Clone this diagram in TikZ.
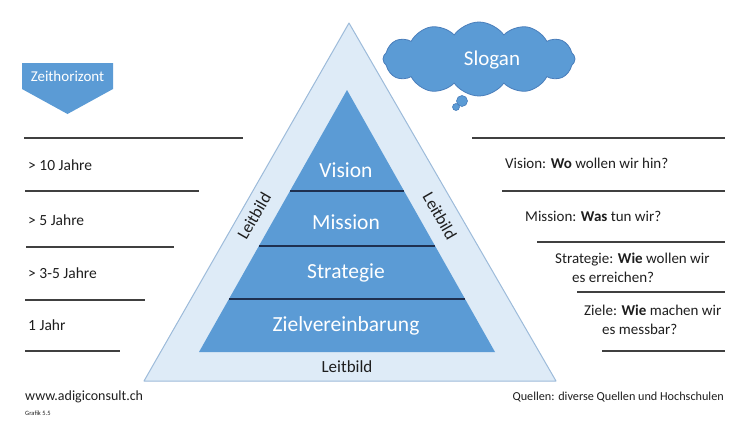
\documentclass[tikz,border=0pt]{standalone}
\usepackage{fontspec}
\setmainfont{Carlito}
\usetikzlibrary{shapes.symbols,calc}
\definecolor{midblue}{HTML}{5B9BD5}
\definecolor{cloudedge}{HTML}{4A7EBB}
\definecolor{lightblue}{HTML}{DEEBF7}
\definecolor{outeredge}{HTML}{9DBBDA}
\definecolor{navy}{HTML}{1F3050}
\definecolor{txt}{HTML}{1E1E1E}
\definecolor{rule}{HTML}{404040}
\tikzset{
  ruleline/.style={draw=rule, line width=1.1pt},
  lefttxt/.style={anchor=west, inner sep=0pt, text=txt, font=\fontsize{15.5}{17}\selectfont},
  righttxt/.style={anchor=west, inner sep=0pt, text=txt, align=left, font=\fontsize{15}{19.5}\selectfont},
  pyrtxt/.style={text=white, inner sep=0pt, font=\fontsize{21.5}{23}\selectfont},
  leit/.style={text=txt, inner sep=0pt, font=\fontsize{17}{18}\selectfont},
  divider/.style={draw=navy, line width=1.2pt}
}
\begin{document}
\begin{tikzpicture}[x=1pt,y=-1pt]
\useasboundingbox (0,0) rectangle (745,424);
% outer triangle
\coordinate (oa) at (349,23);
\coordinate (obl) at (144,381);
\coordinate (obr) at (556,381);
\draw[fill=lightblue, draw=outeredge, line width=1pt, line join=round] (oa) -- (obl) -- (obr) -- cycle;
% inner triangle
\coordinate (ia) at (347,90);
\coordinate (ibl) at (199,352);
\coordinate (ibr) at (495,352);
\fill[midblue] (ia) -- (ibl) -- (ibr) -- cycle;
% dividers
\coordinate (d1l) at ($(ia)!0.3855!(ibl)$);
\coordinate (d1r) at ($(ia)!0.3855!(ibr)$);
\coordinate (d2l) at ($(ia)!0.5954!(ibl)$);
\coordinate (d2r) at ($(ia)!0.5954!(ibr)$);
\coordinate (d3l) at ($(ia)!0.7977!(ibl)$);
\coordinate (d3r) at ($(ia)!0.7977!(ibr)$);
\draw[divider] (d1l) -- (d1r);
\draw[divider] (d2l) -- (d2r);
\draw[divider] (d3l) -- (d3r);
% pyramid texts
\node[pyrtxt] (vision) at (346,170) {Vision};
\node[pyrtxt] (mission) at (346,222) {Mission};
\node[pyrtxt] (strategie) at (346,273) {Strategie};
\node[pyrtxt] (ziel) at (346,326) {Zielvereinbarung};
% Leitbild labels
\node[leit, rotate=60] (leitL) at (254,216) {Leitbild};
\node[leit, rotate=-60] (leitR) at (440,216) {Leitbild};
\node[leit] (leitB) at (347,367) {Leitbild};
% cloud
\node[cloud, cloud puffs=12, cloud puff arc=110, aspect=2.8, fill=midblue, draw=cloudedge, line width=0.8pt,
      minimum width=192pt, minimum height=74pt, inner sep=0pt] (cloud) at (479,59) {};
\node[text=white, inner sep=0pt, font=\fontsize{21}{22}\selectfont] (slogan) at (492,60) {Slogan};
\node[circle, fill=midblue, draw=cloudedge, line width=0.6pt, minimum size=11pt, inner sep=0pt] (b1) at (462,101) {};
\node[circle, fill=midblue, draw=cloudedge, line width=0.6pt, minimum size=7pt, inner sep=0pt] (b2) at (456,107) {};
% Zeithorizont
\coordinate (z1) at (22,63);
\coordinate (z2) at (113,63);
\coordinate (z3) at (113,89);
\coordinate (z4) at (67.5,114);
\coordinate (z5) at (22,89);
\fill[midblue] (z1) -- (z2) -- (z3) -- (z4) -- (z5) -- cycle;
\node[text=white, inner sep=0pt, font=\fontsize{15}{16}\selectfont] (zeit) at (67.5,76) {Zeithorizont};
% left rules
\coordinate (l1a) at (24,138); \coordinate (l1b) at (243,138);
\coordinate (l2a) at (25,191); \coordinate (l2b) at (199,191);
\coordinate (l3a) at (26,247); \coordinate (l3b) at (174,247);
\coordinate (l4a) at (25,300); \coordinate (l4b) at (145,300);
\coordinate (l5a) at (25,351); \coordinate (l5b) at (120,351);
\draw[ruleline] (l1a) -- (l1b);
\draw[ruleline] (l2a) -- (l2b);
\draw[ruleline] (l3a) -- (l3b);
\draw[ruleline] (l4a) -- (l4b);
\draw[ruleline] (l5a) -- (l5b);
\node[lefttxt] (t10) at (28,165) {> 10 Jahre};
\node[lefttxt] (t5) at (28,220) {> 5 Jahre};
\node[lefttxt] (t35) at (28,273) {> 3-5 Jahre};
\node[lefttxt] (t1) at (28,325) {1 Jahr};
% right rules
\coordinate (r1a) at (472,138); \coordinate (r1b) at (725,138);
\coordinate (r2a) at (502,191); \coordinate (r2b) at (725,191);
\coordinate (r3a) at (537,242); \coordinate (r3b) at (725,242);
\coordinate (r4a) at (577,292); \coordinate (r4b) at (725,292);
\coordinate (r5a) at (602,351); \coordinate (r5b) at (725,351);
\draw[ruleline] (r1a) -- (r1b);
\draw[ruleline] (r2a) -- (r2b);
\draw[ruleline] (r3a) -- (r3b);
\draw[ruleline] (r4a) -- (r4b);
\draw[ruleline] (r5a) -- (r5b);
\node[righttxt] (qv) at (505,163) {Vision: \textbf{Wo} wollen wir hin?};
\node[righttxt] (qm) at (525,216) {Mission: \textbf{Was} tun wir?};
\node[righttxt] (qs) at (555,268) {Strategie: \textbf{Wie} wollen wir\\\hspace*{17pt}es erreichen?};
\node[righttxt] (qz) at (584,320) {Ziele: \textbf{Wie} machen wir\\\hspace*{18pt}es messbar?};
% footer
\node[anchor=west, inner sep=0pt, text=txt, font=\fontsize{14}{15}\selectfont] (www) at (25,397) {www.adigiconsult.ch};
\node[anchor=west, inner sep=0pt, text=txt, font=\fontsize{6.5}{7}\selectfont] (grafik) at (25,413) {Grafik 5.5};
\node[anchor=east, inner sep=0pt, text=txt, font=\fontsize{12.2}{14}\selectfont] (quellen) at (724,397) {Quellen: diverse Quellen und Hochschulen};
\end{tikzpicture}
\end{document}
